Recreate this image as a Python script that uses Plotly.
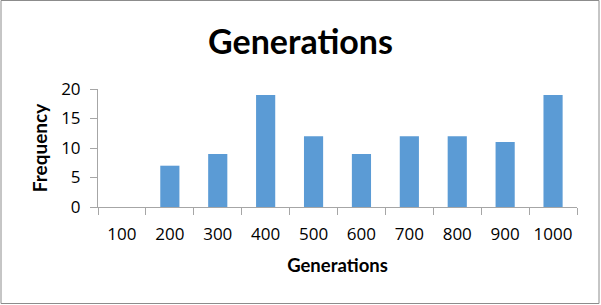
import plotly.graph_objects as go

categories = ["100", "200", "300", "400", "500", "600", "700", "800", "900", "1000"]
frequency = [0, 7, 9, 19, 12, 9, 12, 12, 11, 19]
y_ticks = [0, 5, 10, 15, 20]

W, H = 601, 305
L, R, T, B = 98, 24, 89, 98
pw, ph = W - L - R, H - T - B

fig = go.Figure(go.Bar(
    x=categories, y=frequency,
    marker=dict(color="#5B9BD5", line=dict(width=0)),
))

fig.update_layout(
    width=W, height=H,
    margin=dict(l=L, r=R, t=T, b=B),
    paper_bgcolor="white", plot_bgcolor="white",
    bargap=0.6,
    showlegend=False,
    font=dict(family="Open Sans", color="#000000"),
    title=dict(text="<b>Generations</b>", x=0.5, xanchor="center", xref="container",
               y=1 - 42 / H, yanchor="middle",
               font=dict(family="Lato", size=34, color="#000000")),
    xaxis=dict(
        type="category",
        showline=True, linecolor="#A6A6A6", linewidth=1,
        ticks="outside", ticklen=7, tickcolor="#A6A6A6",
        tickson="boundaries",
        ticklabelstandoff=12,
        tickfont=dict(family="Open Sans", size=17, color="#000000"),
        title=dict(text="<b>Generations</b>",
                   font=dict(family="Lato", size=18.5, color="#000000"), standoff=14),
        showgrid=False, zeroline=False,
    ),
    yaxis=dict(
        range=[0, 20], tickvals=y_ticks,
        showline=True, linecolor="#A6A6A6", linewidth=1,
        ticks="outside", ticklen=7, tickcolor="#A6A6A6",
        ticklabelstandoff=6,
        tickfont=dict(family="Open Sans", size=17, color="#000000"),
        title=dict(text="<b>Frequency</b>",
                   font=dict(family="Lato", size=19, color="#000000"), standoff=8),
        showgrid=False, zeroline=False,
    ),
    shapes=[dict(type="rect", xref="paper", yref="paper",
                 x0=(1 - L) / pw, x1=(W - 2 - L) / pw,
                 y0=-(B - 1.5) / ph, y1=1 + (T - 0.5) / ph,
                 line=dict(color="#8C8C8C", width=1), fillcolor="rgba(0,0,0,0)",
                 layer="above")],
)

fig.write_html("out.html", config={"displayModeBar": False},
               post_script="document.body.style.margin='0';document.body.style.overflow='hidden';")
